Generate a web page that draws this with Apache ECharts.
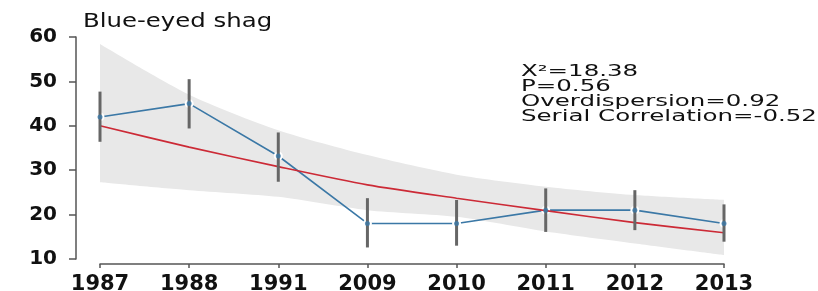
<!DOCTYPE html>
<html>
<head>
<meta charset="utf-8">
<script src="https://cdn.jsdelivr.net/npm/echarts@6/dist/echarts.min.js"></script>
<style>
  html, body { margin: 0; padding: 0; background: #fff; }
  #chart { width: 818px; height: 291px; }
</style>
</head>
<body>
<div id="chart"></div>
<script>
// Survey years (category axis)
const years = ["1987", "1988", "1991", "2009", "2010", "2011", "2012", "2013"];

// Observed counts and their error bars
const observed = [42, 45, 33.2, 18, 18, 21, 21, 18];
const errLow = [36.4, 39.4, 27.4, 12.6, 13, 16.1, 16.5, 13.9];
const errHigh = [47.7, 50.5, 38.5, 23.7, 23.3, 25.9, 25.5, 22.3];

// Fitted trend and its confidence band
const fitted = [40, 35.2, 30.8, 26.7, 23.7, 20.9, 18.2, 15.9];
const bandLow = [27.3, 25.5, 24, 21, 19.5, 16.2, 13.5, 10.9];
const bandHigh = [58.4, 47, 39, 33.4, 29, 26.3, 24.4, 23.3];

const statLines = [
  "X\u00B2=18.38",
  "P=0.56",
  "Overdispersion=0.92",
  "Serial Correlation=-0.52",
];

const chart = echarts.init(document.getElementById("chart"));

const errData = years.map((y, i) => [i, errLow[i], errHigh[i]]);
const bandDiff = bandHigh.map((v, i) => +(v - bandLow[i]).toFixed(2));

// the source image is stretched sideways, so texts get a scaleX
const option = {
  animation: false,
  grid: {
    left: 100,
    right: 94,
    top: 37,
    bottom: 32,
    containLabel: false,
    outerBoundsMode: "none",
  },
  xAxis: {
    type: "category",
    data: years,
    boundaryGap: false,
    offset: 5,
    axisLine: { lineStyle: { color: "#555", width: 1.5 } },
    axisTick: { length: 4, lineStyle: { color: "#555", width: 1.5 } },
    axisLabel: {
      interval: 0,
      margin: 10,
      fontFamily: "DejaVu Sans",
      fontWeight: "bold",
      fontSize: 21,
      color: "#111",
    },
  },
  yAxis: {
    type: "value",
    min: 10,
    max: 60,
    interval: 10,
    offset: 24,
    splitLine: { show: false },
    axisLine: { show: true, lineStyle: { color: "#555", width: 1.5 } },
    axisTick: { show: true, length: 7, lineStyle: { color: "#555", width: 1.5 } },
    axisLabel: {
      margin: 19,
      fontFamily: "DejaVu Sans",
      fontWeight: "bold",
      fontSize: 20,
      color: "#111",
    },
  },
  graphic: [
    {
      type: "text",
      x: 83,
      y: 12,
      scaleX: 1.22,
      style: {
        text: "Blue-eyed shag",
        font: "20px 'DejaVu Sans'",
        fill: "#111",
        verticalAlign: "top",
      },
    },
  ].concat(
    statLines.map((t, i) => ({
      type: "text",
      x: 521,
      y: 64 + i * 15,
      scaleX: 1.53,
      style: {
        text: t,
        font: "16px 'DejaVu Sans'",
        fill: "#111",
        verticalAlign: "top",
      },
    }))
  ),
  series: [
    {
      name: "bandLow",
      type: "line",
      data: bandLow,
      stack: "band",
      smooth: 0.25,
      symbol: "none",
      lineStyle: { opacity: 0 },
      z: 1,
    },
    {
      name: "band",
      type: "line",
      data: bandDiff,
      stack: "band",
      smooth: 0.25,
      symbol: "none",
      lineStyle: { opacity: 0 },
      areaStyle: { color: "#e8e8e8", opacity: 1 },
      z: 1,
    },
    {
      name: "observed",
      type: "line",
      data: observed,
      symbol: "circle",
      symbolSize: 6,
      itemStyle: { color: "#3b78a6", borderColor: "#fff", borderWidth: 3 },
      lineStyle: { color: "#3b78a6", width: 1.6 },
      z: 2,
    },
    {
      name: "fitted",
      type: "line",
      data: fitted,
      smooth: 0.25,
      symbol: "none",
      lineStyle: { color: "#cc2a36", width: 1.6 },
      z: 3,
    },
    {
      name: "errors",
      type: "custom",
      data: errData,
      z: 4,
      renderItem: (params, api) => {
        const p0 = api.coord([api.value(0), api.value(1)]);
        const p1 = api.coord([api.value(0), api.value(2)]);
        return {
          type: "line",
          shape: { x1: p0[0], y1: p0[1], x2: p1[0], y2: p1[1] },
          style: { stroke: "#666", lineWidth: 3 },
        };
      },
    },
    {
      name: "points",
      type: "scatter",
      data: observed,
      symbol: "circle",
      symbolSize: 5,
      itemStyle: { color: "#3b78a6" },
      z: 5,
    },
  ],
};

chart.setOption(option);
</script>
</body>
</html>
